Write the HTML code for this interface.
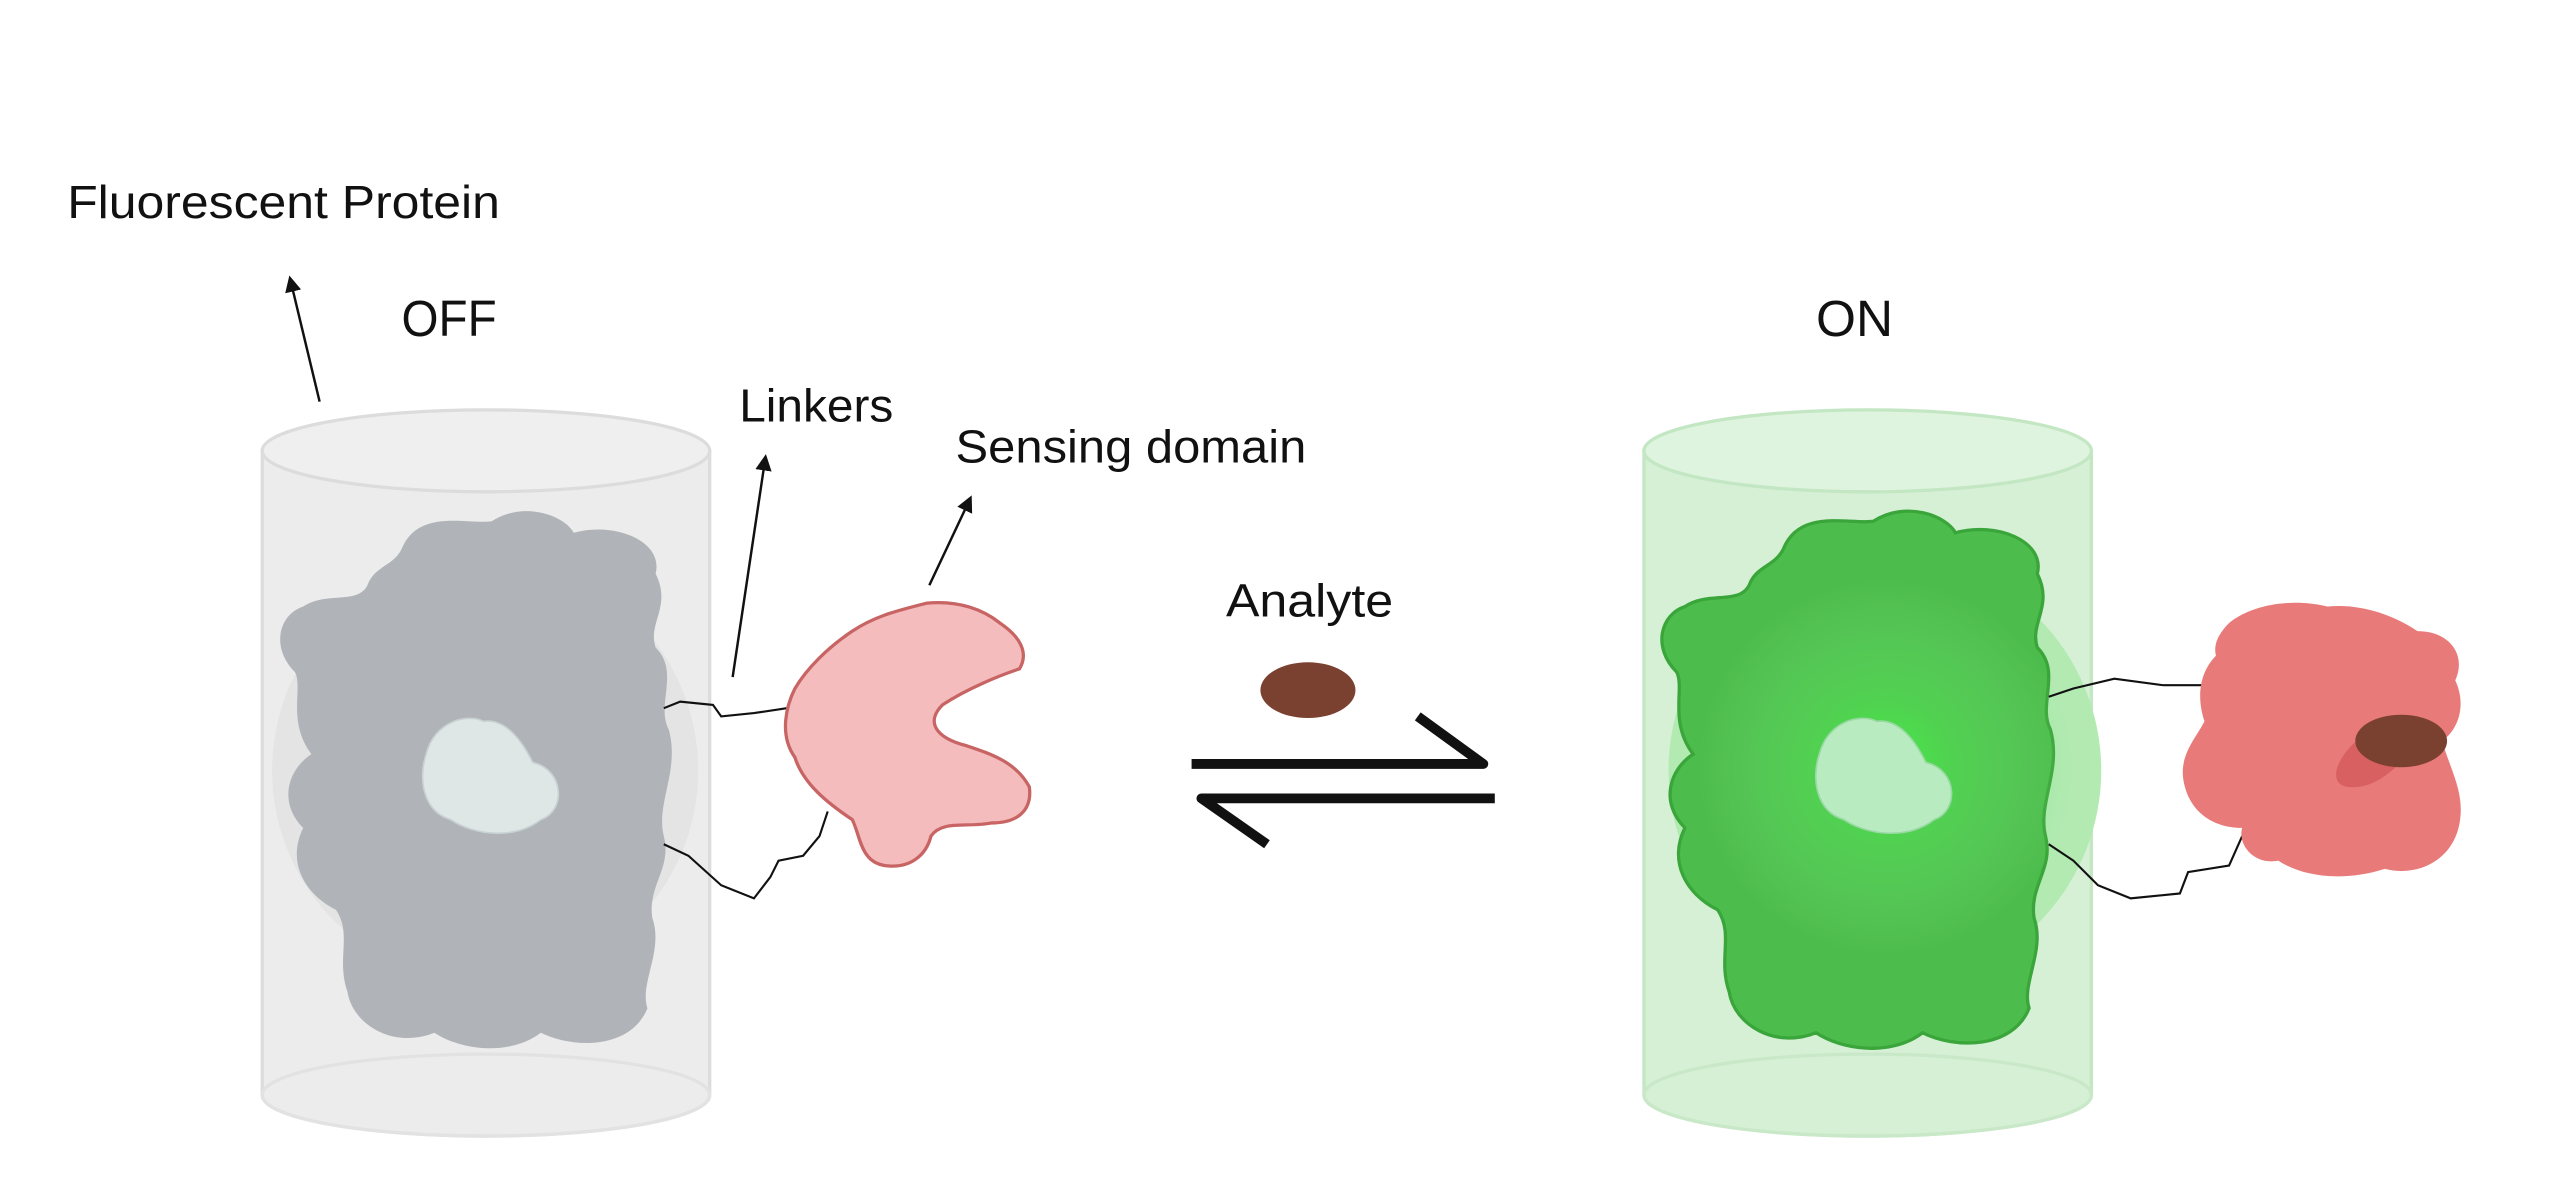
<!DOCTYPE html>
<html><head><meta charset="utf-8"><style>
html,body{margin:0;padding:0;background:#fff;}
svg{display:block;}
text{font-family:"Liberation Sans",sans-serif;fill:#111;}
</style></head><body>
<svg width="2570" height="1200" viewBox="0 0 1568 732" preserveAspectRatio="none" xmlns="http://www.w3.org/2000/svg">
<defs>
<marker id="ah" markerWidth="10" markerHeight="10" refX="8" refY="5" orient="auto" markerUnits="userSpaceOnUse">
<path d="M0,0 L10,5 L0,10 z" fill="#111"/></marker>
<radialGradient id="glow" cx="0.5" cy="0.5" r="0.5">
<stop offset="0" stop-color="#46f046" stop-opacity="0.9"/>
<stop offset="0.4" stop-color="#55e055" stop-opacity="0.55"/>
<stop offset="1" stop-color="#7ee27e" stop-opacity="0"/>
</radialGradient>
</defs>
<rect width="1568" height="732" fill="#fff"/>

<text x="41" y="133" font-size="28" textLength="264" lengthAdjust="spacingAndGlyphs">Fluorescent Protein</text>
<line x1="195" y1="245" x2="177" y2="170" stroke="#111" stroke-width="1.5" marker-end="url(#ah)"/>
<text x="245" y="205" font-size="31" textLength="58" lengthAdjust="spacingAndGlyphs">OFF</text>
<text x="451" y="257" font-size="28" textLength="94" lengthAdjust="spacingAndGlyphs">Linkers</text>
<line x1="447" y1="413" x2="467" y2="279" stroke="#111" stroke-width="1.5" marker-end="url(#ah)"/>
<text x="583" y="282" font-size="28" textLength="214" lengthAdjust="spacingAndGlyphs">Sensing domain</text>
<line x1="567" y1="357" x2="592" y2="304" stroke="#111" stroke-width="1.5" marker-end="url(#ah)"/>
<text x="748" y="376" font-size="28" textLength="102" lengthAdjust="spacingAndGlyphs">Analyte</text>
<text x="1108" y="205" font-size="31" textLength="47" lengthAdjust="spacingAndGlyphs">ON</text>

<path d="M160,275 L160,668 A136.5,25 0 0 0 433,668 L433,275 Z" fill="#ececec" stroke="#dcdcdc" stroke-width="2"/>
<ellipse cx="296.5" cy="275" rx="136.5" ry="25" fill="#efefef" stroke="#dcdcdc" stroke-width="2"/>
<ellipse cx="296.5" cy="668" rx="136.5" ry="25" fill="none" stroke="#e2e2e2" stroke-width="2"/>
<circle cx="296" cy="470" r="130" fill="#e4e4e4"/>
<path d="M245,335 C255,310 285,320 300,318 C320,305 345,315 350,325 C375,318 405,330 400,350 C410,370 395,380 400,395 C415,410 400,430 408,445 C415,470 400,490 405,510 C410,530 395,540 398,560 C405,580 390,600 395,615 C385,640 350,640 330,630 C310,645 280,640 265,630 C240,640 215,625 212,605 C205,585 215,570 205,555 C185,545 175,525 185,505 C170,490 175,470 190,460 C175,440 185,420 180,410 C165,395 170,375 185,370 C200,360 220,370 225,355 C230,345 240,345 245,335 Z" fill="#b0b3b7"/>
<path d="M260,460 C265,440 285,435 295,440 C310,438 320,455 325,465 C345,470 345,495 330,500 C315,512 290,510 275,500 C258,495 255,475 260,460 Z" fill="#dfe6e6" stroke="#c8d2d2"/>

<path d="M405,432 L415,428 L435,430 L440,437 L460,435 L480,432" fill="none" stroke="#111" stroke-width="1.3"/>
<path d="M405,515 L420,522 L440,540 L460,548 L470,535 L475,525 L490,522 L500,510 L505,495" fill="none" stroke="#111" stroke-width="1.3"/>

<path d="M520,385 C535,375 550,372 565,368 C585,366 600,372 610,380 C622,388 628,398 622,408 C610,412 590,420 575,430 C565,440 570,450 590,455 C605,460 620,465 628,480 C630,495 620,502 605,502 C590,505 575,500 568,510 C565,522 555,530 540,528 C525,526 525,510 520,500 C505,490 490,478 485,462 C475,448 480,430 485,420 C492,408 505,395 520,385 Z" fill="#f4bcbc" stroke="#c86464" stroke-width="2"/>

<ellipse cx="798" cy="421" rx="29" ry="17" fill="#7a4030"/>

<path d="M727,466 L905,466 L865,437" fill="none" stroke="#111" stroke-width="6" stroke-linejoin="round"/>
<path d="M912,487 L733,487 L773,515" fill="none" stroke="#111" stroke-width="6" stroke-linejoin="round"/>

<path d="M1003,275 L1003,668 A136.5,25 0 0 0 1276,668 L1276,275 Z" fill="#d6f0d6" stroke="#c3e6c3" stroke-width="2"/>
<ellipse cx="1139.5" cy="275" rx="136.5" ry="25" fill="#dff4df" stroke="#c3e6c3" stroke-width="2"/>
<ellipse cx="1139.5" cy="668" rx="136.5" ry="25" fill="none" stroke="#c8e8c8" stroke-width="2"/>
<circle cx="1150" cy="470" r="132" fill="#b2eab2"/>
<path d="M1088,335 C1098,310 1128,320 1143,318 C1163,305 1188,315 1193,325 C1218,318 1248,330 1243,350 C1253,370 1238,380 1243,395 C1258,410 1243,430 1251,445 C1258,470 1243,490 1248,510 C1253,530 1238,540 1241,560 C1248,580 1233,600 1238,615 C1228,640 1193,640 1173,630 C1153,645 1123,640 1108,630 C1083,640 1058,625 1055,605 C1048,585 1058,570 1048,555 C1028,545 1018,525 1028,505 C1013,490 1018,470 1033,460 C1018,440 1028,420 1023,410 C1008,395 1013,375 1028,370 C1043,360 1063,370 1068,355 C1073,345 1083,345 1088,335 Z" fill="#4cbc4c" stroke="#3aa53a" stroke-width="2"/>
<circle cx="1150" cy="468" r="115" fill="url(#glow)"/>
<path d="M1110,460 C1115,440 1135,435 1145,440 C1160,438 1170,455 1175,465 C1195,470 1195,495 1180,500 C1165,512 1140,510 1125,500 C1108,495 1105,475 1110,460 Z" fill="#b8ecc0" stroke="#9ad8a4"/>

<path d="M1250,425 L1265,420 L1290,414 L1320,418 L1345,418" fill="none" stroke="#111" stroke-width="1.3"/>
<path d="M1250,515 L1265,525 L1280,540 L1300,548 L1330,545 L1335,532 L1360,528 L1368,510" fill="none" stroke="#111" stroke-width="1.3"/>

<path d="M1360,380 C1375,368 1400,365 1420,370 C1440,368 1460,375 1475,385 C1495,385 1505,400 1498,415 C1505,430 1500,445 1490,452 C1495,470 1505,485 1500,505 C1495,525 1475,535 1455,530 C1430,538 1405,535 1390,525 C1375,528 1365,515 1368,505 C1350,505 1335,495 1332,475 C1330,460 1340,450 1345,440 C1340,425 1342,410 1352,400 C1350,392 1355,385 1360,380 Z" fill="#e87a7a"/>
<path d="M1440,450 C1425,462 1420,478 1432,480 C1448,482 1460,470 1470,460 Z" fill="#d86060"/>
<ellipse cx="1465" cy="452" rx="28" ry="16" fill="#7a4030"/>
</svg>
</body></html>
